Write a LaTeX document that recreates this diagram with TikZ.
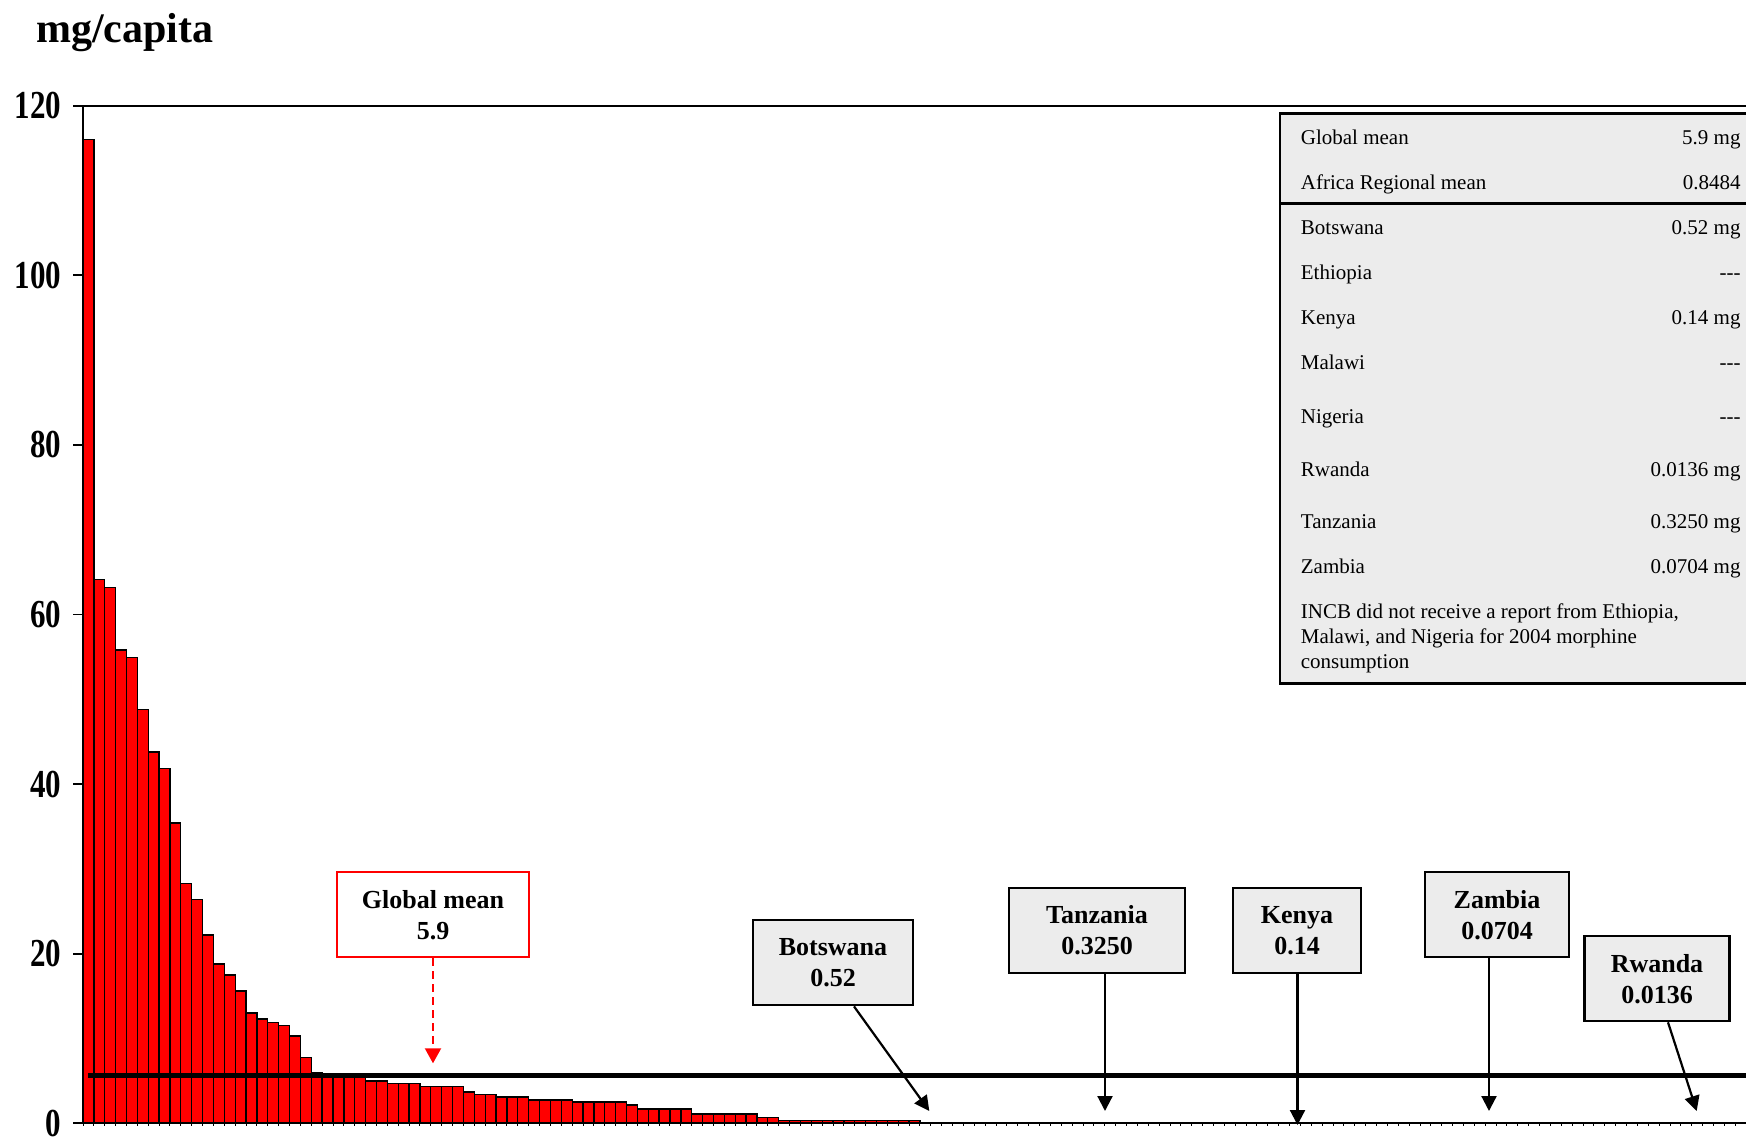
\documentclass[tikz,border=0pt]{standalone}
\usepackage{fontspec}
\setmainfont{Liberation Serif}
\usetikzlibrary{arrows.meta}
\definecolor{boxgrey}{RGB}{236,236,236}
\newcommand{\nodata}{\mbox{-}\mbox{-}\mbox{-}}

\begin{document}
\begin{tikzpicture}[x=1pt,y=-1pt]
    \tikzset{bar/.style = {draw=black, line width=1.3pt, fill=red}}
    \tikzset{callout/.style = {draw, line width=2.2pt, fill=boxgrey, align=center, inner sep=0pt, minimum height=85pt, font=\fontsize{26}{31}\selectfont\bfseries}}
    \tikzset{pointer/.style = {draw, line width=2.2pt, -{Triangle[length=15pt,width=15pt]}}}
    \tikzset{row/.style = {anchor=base west, inner sep=0pt, font=\fontsize{21}{25}\selectfont}}
    \tikzset{val/.style = {anchor=base east, inner sep=0pt, font=\fontsize{21}{25}\selectfont}}
    \tikzset{ylab/.style = {anchor=east, inner sep=0pt, font=\fontsize{31}{31}\selectfont\bfseries}}

    \useasboundingbox (0,0) rectangle (1746,1139);

    \node[anchor=base west, inner sep=0pt, font=\fontsize{42}{42}\selectfont\bfseries] (unit) at (36,43) {mg/capita};

    % chart
    \begin{scope}[shift={(83,1123.3)}, x=10.87pt, y=8.48pt]
      \foreach \v [count=\i from 0] in {116.0,64.1,63.2,55.8,54.9,48.8,43.8,41.8,35.4,28.3,26.4,22.2,18.8,17.5,15.6,13.0,
          12.3,11.9,11.5,10.3,7.8,6.0,5.7,5.6,5.5,5.4,5.0,5.0,4.7,4.7,4.7,4.3,4.3,4.3,4.3,3.7,3.4,3.4,3.1,3.1,3.1,
          2.75,2.75,2.75,2.75,2.5,2.5,2.5,2.5,2.5,2.15,1.7,1.7,1.7,1.7,1.7,1.1,1.1,1.1,1.1,1.1,1.1,0.7,0.7}
        \draw[bar] (\i,0) rectangle (\i+1,\v);
      \foreach \i in {64,...,76} \draw[bar] (\i,0) rectangle (\i+1,0.35);
      \foreach \i in {77,...,108} \draw[bar] (\i,0) rectangle (\i+1,0.12);

      % axes
      \draw[line width=1.8pt] (0,0) -- (0,120);
      \draw[line width=1.8pt] (-0.92,120) -- (160,120);
      \foreach \t in {0,20,...,120} {
        \draw[line width=1.8pt] (-0.92,\t) -- (0,\t);
        \node[ylab] (y\t) at (-1.98,\t) {\scalebox{1}[1.28]{\t}};
      }
      \foreach \k in {0,...,153} \draw[line width=1pt] (\k,0) -- (\k,-0.35);
      \draw[line width=2.3pt] (0,0) -- (160,0);

      % global mean
      \draw[line width=4.7pt] (0.49,5.6) -- (160,5.6);
    \end{scope}

    % legend table
    \draw[line width=2.7pt, fill=boxgrey] (1280,113.3) rectangle (1760,683.3);
    \draw[line width=2.7pt] (1280,203.3) -- (1760,203.3);
    \foreach \name/\amount/\yy [count=\r] in {Global mean/5.9 mg/145, Africa Regional mean/0.8484/190,
        Botswana/0.52 mg/235, Ethiopia/\nodata/280, Kenya/0.14 mg/325, Malawi/\nodata/370,
        Nigeria/\nodata/423.3, Rwanda/0.0136 mg/476.7, Tanzania/0.3250 mg/528.3, Zambia/0.0704 mg/573.3} {
      \node[row] (n\r) at (1300.7,\yy) {\name};
      \node[val] (v\r) at (1740.7,\yy) {\amount};
    }
    \node[row, anchor=north west, align=left] (note) at (1300.7,603.8)
      {INCB did not receive a report from Ethiopia,\\Malawi, and Nigeria for 2004 morphine\\consumption};

    % callouts
    \node[callout, draw=red, fill=white, line width=1.8pt, minimum width=192pt] (gm) at (433,914.8) {Global mean\\5.9};
    \node[callout, minimum width=160pt] (bw) at (833,962.8) {Botswana\\0.52};
    \node[callout, minimum width=176pt] (tz) at (1097,930.5) {Tanzania\\0.3250};
    \node[callout, minimum width=128pt] (ke) at (1297,930.5) {Kenya\\0.14};
    \node[callout, minimum width=144pt] (zm) at (1497,914.8) {Zambia\\0.0704};
    \node[callout, minimum width=145pt] (rw) at (1657,978.7) {Rwanda\\0.0136};

    \coordinate (gmtip) at (433,1063.3);
    \coordinate (bwtip) at (929.3,1111);
    \coordinate (tztip) at (1105,1111);
    \coordinate (ketip) at (1297.5,1125);
    \coordinate (zmtip) at (1489,1111);
    \coordinate (rwtip) at (1696.7,1111);

    % arrows
    \draw[pointer, red, line width=2pt, dash pattern=on 8pt off 5pt, -{Triangle[length=15pt,width=16pt]}] (gm) -- (gmtip);
    \draw[pointer] ([xshift=21pt]bw.south) -- (bwtip);
    \draw[pointer] (tz.south -| tztip) -- (tztip);
    \draw[pointer] (ke.south -| ketip) -- (ketip);
    \draw[pointer] (zm.south -| zmtip) -- (zmtip);
    \draw[pointer] ([xshift=11pt]rw.south) -- (rwtip);
\end{tikzpicture}
\end{document}
